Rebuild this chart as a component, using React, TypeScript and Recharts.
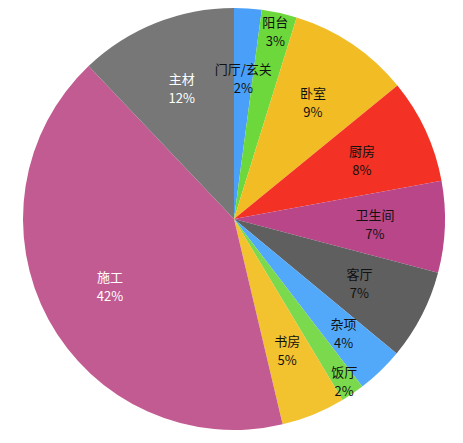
import { PieChart, Pie, Cell } from "recharts"

const names = ["门厅/玄关", "阳台", "卧室", "厨房", "卫生间", "客厅", "杂项", "饭厅", "书房", "施工", "主材"]
const values = [2.1, 2.7, 9.3, 8.0, 7.0, 6.9, 3.6, 1.8, 4.9, 41.6, 12.1]

const colors = ["#4a9ff9", "#6cd83c", "#f2bd24", "#f33124", "#b94689", "#5f5f5f", "#53a9f9", "#7bd94d", "#f2c22f", "#c25b91", "#777777"]
const textColors = ["#111", "#111", "#111", "#111", "#111", "#111", "#111", "#111", "#111", "#fff", "#fff"]
// small slices get their labels pushed outwards to avoid overlap
const labelRadius: Record<string, number> = { 阳台: 192, 杂项: 158, 饭厅: 196 }

const data = names.map((name, i) => ({ name, value: values[i] }))

const RADIAN = Math.PI / 180
const font = "'Noto Sans CJK SC', sans-serif"

function renderLabel(props: any) {
  const { cx, cy, midAngle, percent, index, name } = props
  const r = labelRadius[name] ?? 141
  const x = cx + r * Math.cos(-midAngle * RADIAN)
  const y = cy + r * Math.sin(-midAngle * RADIAN)
  const fill = textColors[index]
  return (
    <g>
      <text x={x} y={y - 4} fill={fill} textAnchor="middle" fontSize={13} fontFamily={font}>
        {name}
      </text>
      <text x={x} y={y + 15} fill={fill} textAnchor="middle" fontSize={13} fontFamily={font}>
        {`${Math.round(percent * 100)}%`}
      </text>
    </g>
  )
}

export default function App() {
  return (
    <PieChart width={455} height={435} margin={{ top: 0, right: 0, bottom: 0, left: 0 }}>
      <Pie
        data={data}
        dataKey="value"
        nameKey="name"
        cx={226}
        cy={211}
        outerRadius={211}
        startAngle={90}
        endAngle={-270}
        stroke="none"
        label={renderLabel}
        labelLine={false}
        isAnimationActive={false}
      >
        {data.map((d, i) => (
          <Cell key={d.name} fill={colors[i]} />
        ))}
      </Pie>
    </PieChart>
  )
}
